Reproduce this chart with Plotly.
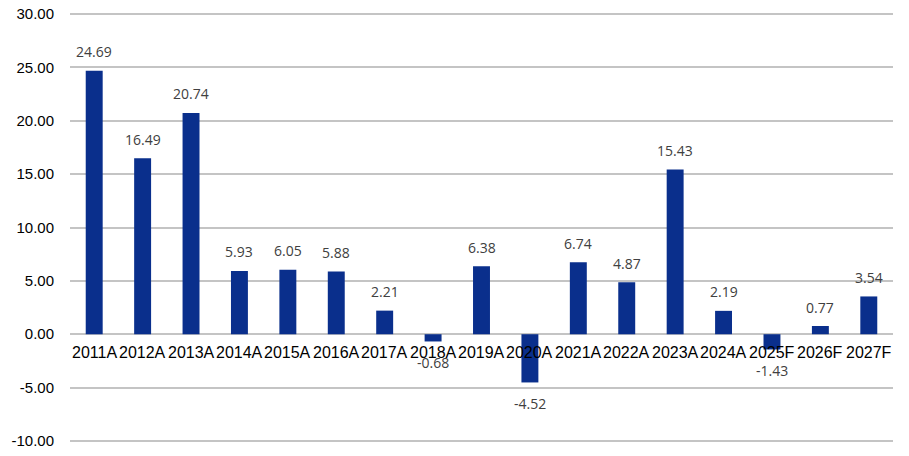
import plotly.graph_objects as go

years = ["2011A", "2012A", "2013A", "2014A", "2015A", "2016A", "2017A", "2018A", "2019A",
         "2020A", "2021A", "2022A", "2023A", "2024A", "2025F", "2026F", "2027F"]
values = [24.69, 16.49, 20.74, 5.93, 6.05, 5.88, 2.21, -0.68, 6.38,
          -4.52, 6.74, 4.87, 15.43, 2.19, -1.43, 0.77, 3.54]
y_ticks = [-10, -5, 0, 5, 10, 15, 20, 25, 30]

fig = go.Figure()
fig.add_trace(go.Bar(
    x=years, y=values,
    marker=dict(color="#0a2f8c", line=dict(width=0)),
    width=0.35,
    hoverinfo="x+y",
))

# Value labels above positive bars, below negative ones
for yr, v in zip(years, values):
    fig.add_annotation(x=yr, y=v, xref="x", yref="y", text=f"{v:.2f}", showarrow=False,
                       yanchor="middle", yshift=19 if v >= 0 else -21,
                       font=dict(family="Open Sans", size=14, color="#404040"))

# Category labels sit directly under the zero line
for yr in years:
    fig.add_annotation(x=yr, y=0, xref="x", yref="y", text=yr, showarrow=False,
                       yanchor="top", yshift=-8,
                       font=dict(family="Liberation Sans", size=16, color="#000000"))

fig.update_layout(
    width=909, height=456,
    margin=dict(l=70, r=16, t=13, b=14, autoexpand=False),
    plot_bgcolor="white", paper_bgcolor="white",
    showlegend=False,
    xaxis=dict(showticklabels=False, showgrid=False, zeroline=False, showline=False,
               range=[-0.5, len(years) - 0.5], automargin=False),
    yaxis=dict(range=[-10.1, 30.1], tickvals=y_ticks, ticktext=[f"{t:.2f}" for t in y_ticks],
               showgrid=True, gridcolor="#c4c4c4", gridwidth=1.5,
               zeroline=True, zerolinecolor="#c4c4c4", zerolinewidth=1.5,
               ticks="outside", ticklen=12, tickcolor="rgba(0,0,0,0)", automargin=False,
               tickfont=dict(family="Liberation Sans", size=15, color="#000000")),
)

fig.write_html("out.html")
